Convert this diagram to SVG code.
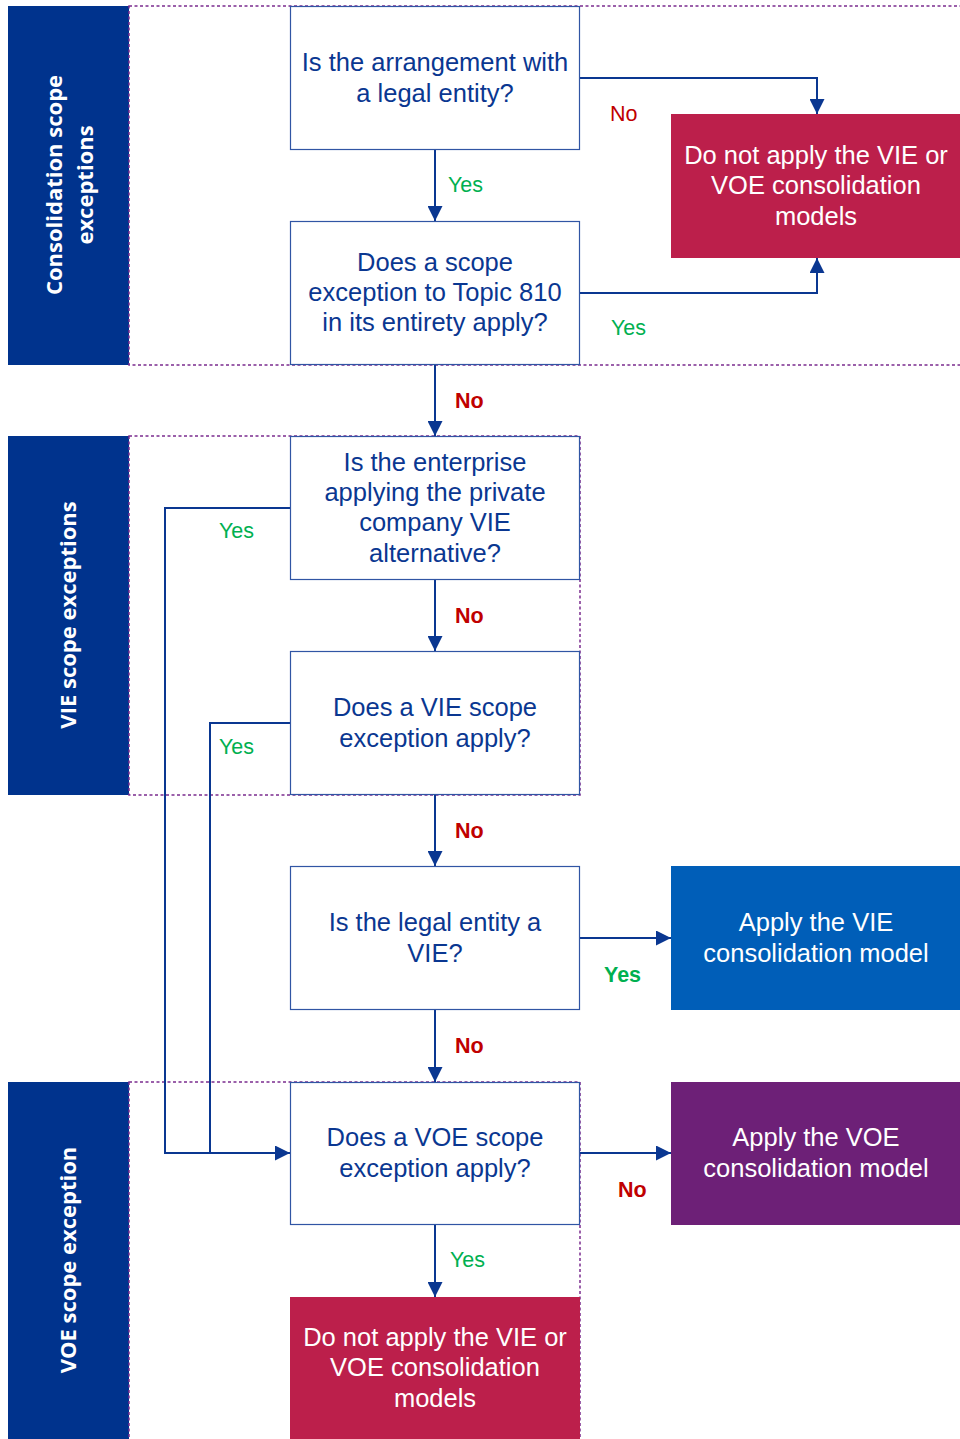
<svg xmlns="http://www.w3.org/2000/svg" width="960" height="1439" viewBox="0 0 960 1439">
<defs>
<marker id="ah" viewBox="0 0 10 10" refX="10" refY="5" markerWidth="15" markerHeight="15" markerUnits="userSpaceOnUse" orient="auto">
<path d="M0,0 L10,5 L0,10 z" fill="#0A3791"/>
</marker>
<style>
.lane{fill:#00338D}
.lanet{font-family:"Open Sans","Liberation Sans",sans-serif;font-weight:700;font-size:22px;fill:#fff;text-anchor:middle}
.zone{fill:none;stroke:#7B2C8F;stroke-width:1.5;stroke-dasharray:3,2.5}
.q{fill:#fff;stroke:#3055A4;stroke-width:1.2}
.qt{font-family:"Liberation Sans",Arial,sans-serif;font-size:25.5px;fill:#0A3791;text-anchor:middle}
.ot{font-family:"Liberation Sans",Arial,sans-serif;font-size:25.5px;fill:#fff;text-anchor:middle}
.red{fill:#BC1F4B}
.blue{fill:#005EB8}
.purple{fill:#6D2077}
.c{fill:none;stroke:#0A3791;stroke-width:2}
.yes{font-family:"Liberation Sans",Arial,sans-serif;font-size:21.5px;fill:#00B050}
.no{font-family:"Liberation Sans",Arial,sans-serif;font-size:21.5px;fill:#C00000}
.b{font-weight:700}
</style>
</defs>
<rect width="960" height="1439" fill="#fff"/>

<g id="lanes">
<rect class="lane" x="8" y="6" width="121" height="359"/>
<rect class="zone" x="129" y="6" width="833" height="359"/>
<text class="lanet" transform="translate(68,185) rotate(-90)"><tspan x="0" y="-6">Consolidation scope</tspan><tspan x="0" y="25">exceptions</tspan></text>
<rect class="lane" x="8" y="436" width="121" height="359"/>
<rect class="zone" x="129" y="436" width="451" height="359"/>
<text class="lanet" transform="translate(68,615) rotate(-90)"><tspan x="0" y="8">VIE scope exceptions</tspan></text>
<rect class="lane" x="8" y="1082" width="121" height="357"/>
<rect class="zone" x="129" y="1082" width="451" height="370"/>
<text class="lanet" transform="translate(68,1260) rotate(-90)"><tspan x="0" y="8">VOE scope exception</tspan></text>
</g>

<g id="connectors">
<path class="c" d="M580,78 H817 V114" marker-end="url(#ah)"/>
<path class="c" d="M435,150 V221" marker-end="url(#ah)"/>
<path class="c" d="M580,293 H817 V258" marker-end="url(#ah)"/>
<path class="c" d="M435,365 V436" marker-end="url(#ah)"/>
<path class="c" d="M435,580 V651" marker-end="url(#ah)"/>
<path class="c" d="M435,795 V866" marker-end="url(#ah)"/>
<path class="c" d="M435,1010 V1082" marker-end="url(#ah)"/>
<path class="c" d="M435,1225 V1297" marker-end="url(#ah)"/>
<path class="c" d="M580,938 H671" marker-end="url(#ah)"/>
<path class="c" d="M580,1153 H671" marker-end="url(#ah)"/>
<path class="c" d="M290,508 H165 V1153 H290" marker-end="url(#ah)"/>
<path class="c" d="M290,723 H210 V1153"/>
<text class="no" x="610" y="121">No</text>
<text class="yes" x="448" y="192">Yes</text>
<text class="yes" x="611" y="335">Yes</text>
<text class="no b" x="455" y="408">No</text>
<text class="yes" x="219" y="538">Yes</text>
<text class="no b" x="455" y="623">No</text>
<text class="yes" x="219" y="754">Yes</text>
<text class="no b" x="455" y="838">No</text>
<text class="yes b" x="604" y="982">Yes</text>
<text class="no b" x="455" y="1053">No</text>
<text class="no b" x="618" y="1197">No</text>
<text class="yes" x="450" y="1267">Yes</text>
</g>

<g id="n1"><rect class="q" x="290.5" y="6.5" width="289" height="143"/>
<text class="qt"><tspan x="435" y="71">Is the arrangement with</tspan><tspan x="435" y="102">a legal entity?</tspan></text></g>
<g id="n2"><rect class="q" x="290.5" y="221.5" width="289" height="143"/>
<text class="qt"><tspan x="435" y="271">Does a scope</tspan><tspan x="435" y="301">exception to Topic 810</tspan><tspan x="435" y="331">in its entirety apply?</tspan></text></g>
<g id="r1"><rect class="red" x="671" y="114" width="289" height="144"/>
<text class="ot"><tspan x="816" y="164">Do not apply the VIE or</tspan><tspan x="816" y="194">VOE consolidation</tspan><tspan x="816" y="225">models</tspan></text></g>
<g id="n3"><rect class="q" x="290.5" y="436.5" width="289" height="143"/>
<text class="qt"><tspan x="435" y="471">Is the enterprise</tspan><tspan x="435" y="501">applying the private</tspan><tspan x="435" y="531">company VIE</tspan><tspan x="435" y="562">alternative?</tspan></text></g>
<g id="n4"><rect class="q" x="290.5" y="651.5" width="289" height="143"/>
<text class="qt"><tspan x="435" y="716">Does a VIE scope</tspan><tspan x="435" y="747">exception apply?</tspan></text></g>
<g id="n5"><rect class="q" x="290.5" y="866.5" width="289" height="143"/>
<text class="qt"><tspan x="435" y="931">Is the legal entity a</tspan><tspan x="435" y="962">VIE?</tspan></text></g>
<g id="vie"><rect class="blue" x="671" y="866" width="289" height="144"/>
<text class="ot"><tspan x="816" y="931">Apply the VIE</tspan><tspan x="816" y="962">consolidation model</tspan></text></g>
<g id="n6"><rect class="q" x="290.5" y="1082.5" width="289" height="142"/>
<text class="qt"><tspan x="435" y="1146">Does a VOE scope</tspan><tspan x="435" y="1177">exception apply?</tspan></text></g>
<g id="voe"><rect class="purple" x="671" y="1082" width="289" height="143"/>
<text class="ot"><tspan x="816" y="1146">Apply the VOE</tspan><tspan x="816" y="1177">consolidation model</tspan></text></g>
<g id="r2"><rect class="red" x="290" y="1297" width="290" height="142"/>
<text class="ot"><tspan x="435" y="1346">Do not apply the VIE or</tspan><tspan x="435" y="1376">VOE consolidation</tspan><tspan x="435" y="1407">models</tspan></text></g>
</svg>
